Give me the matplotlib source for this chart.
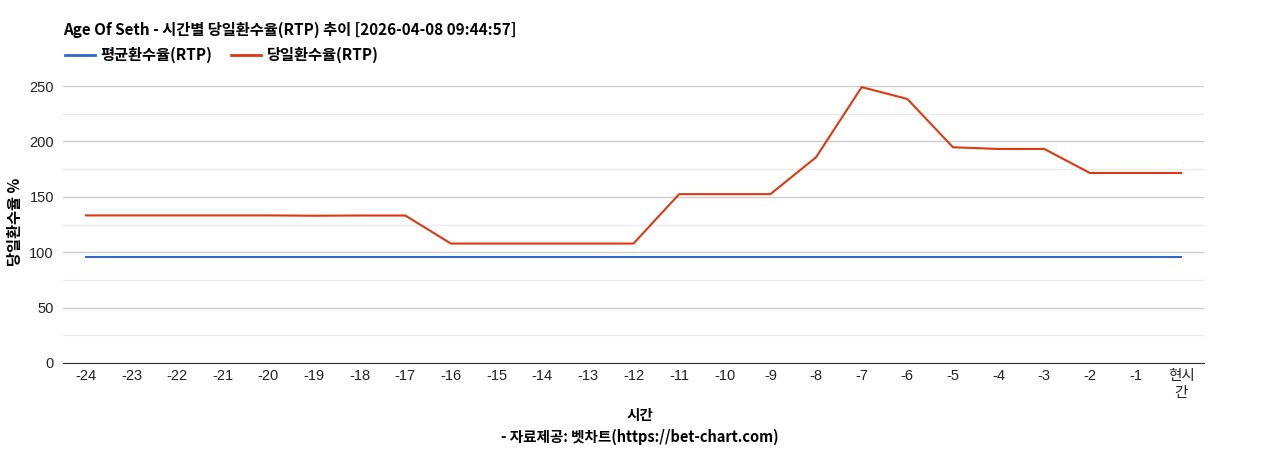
import matplotlib.pyplot as plt
from matplotlib.lines import Line2D

plt.rcParams['font.family'] = ['Noto Sans CJK KR', 'DejaVu Sans']

hours = ['-24', '-23', '-22', '-21', '-20', '-19', '-18', '-17', '-16', '-15', '-14', '-13',
         '-12', '-11', '-10', '-9', '-8', '-7', '-6', '-5', '-4', '-3', '-2', '-1', '현시\n간']
avg_rtp = [96] * 25
day_rtp = [133.2, 133.2, 133.2, 133.2, 133.2, 132.9, 133.1, 133.1, 107.8, 107.8, 107.8, 107.8,
           107.8, 152.4, 152.4, 152.4, 185.7, 249, 238.3, 194.7, 193.2, 193.2, 171.5, 171.5, 171.5]

title = 'Age Of Seth - 시간별 당일환수율(RTP) 추이 [2026-04-08 09:44:57]'
blue = '#3366cc'
red = '#dc3912'
num_font = ['Liberation Sans', 'Noto Sans CJK KR']

fig = plt.figure(figsize=(12.68, 4.5), dpi=100)
ax = fig.add_axes([63 / 1268, 1 - 363 / 450, 1141 / 1268, 277 / 450])

x = range(len(hours))
ax.plot(x, avg_rtp, color=blue, lw=1.5, clip_on=False, zorder=3)
ax.plot(x, day_rtp, color=red, lw=1.5, clip_on=False, zorder=3)

ax.set_xlim(-0.5, 24.5)
ax.set_ylim(0, 250)
ax.set_yticks(range(0, 251, 50))
ax.set_yticks(range(25, 250, 50), minor=True)
ax.set_xticks(list(x))
ax.set_xticklabels(hours, fontsize=10.5, color='#222222', family=num_font, linespacing=1.3)
for lbl in ax.get_yticklabels():
    lbl.set_family(num_font)
ax.tick_params(axis='y', labelsize=10.5, labelcolor='#222222', length=0, pad=6.5)
ax.tick_params(axis='y', which='minor', length=0)
ax.tick_params(axis='x', length=0, pad=4)
ax.grid(axis='y', which='major', color='#cccccc', lw=1)
ax.grid(axis='y', which='minor', color='#ebebeb', lw=1)
ax.set_axisbelow(True)
for s in ['top', 'right', 'left']:
    ax.spines[s].set_visible(False)
ax.spines['bottom'].set_color('#333333')
ax.spines['bottom'].set_zorder(4)

fig.text(15 / 1268, 1 - 222 / 450, '당일환수율 %', rotation=90, ha='center', va='center',
         fontsize=11, fontweight='bold')
fig.text(640 / 1268, 1 - 415 / 450, '시간', ha='center', va='center', fontsize=10.5, fontweight='bold')
fig.text(640 / 1268, 1 - 437 / 450, '- 자료제공: 벳차트(https://bet-chart.com)', ha='center', va='center',
         fontsize=10.5, fontweight='bold')

fig.text(63 / 1268, 1 - 30 / 450, title, ha='left', va='center', fontsize=11, fontweight='bold')
handles = [Line2D([], [], color=blue, lw=2), Line2D([], [], color=red, lw=2)]
fig.legend(handles, ['평균환수율(RTP)', '당일환수율(RTP)'], loc='center left',
           bbox_to_anchor=(51 / 1268, 1 - 55 / 450), ncol=2, frameon=False,
           prop={'size': 11, 'weight': 'bold'}, handlelength=1.95, handletextpad=0.4,
           columnspacing=1.2)

fig.savefig('out.png', dpi=100)
